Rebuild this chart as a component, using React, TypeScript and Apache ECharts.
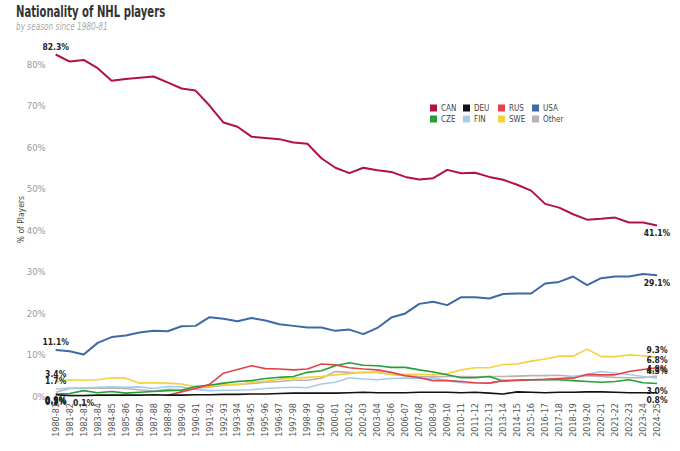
import React, { useEffect, useRef } from 'react';
import * as echarts from 'echarts';

const seasons = [
  '1980-81', '1981-82', '1982-83', '1983-84', '1984-85', '1985-86', '1986-87', '1987-88', '1988-89', '1989-90',
  '1990-91', '1991-92', '1992-93', '1993-94', '1994-95', '1995-96', '1996-97', '1997-98', '1998-99', '1999-00',
  '2000-01', '2001-02', '2002-03', '2003-04', '2005-06', '2006-07', '2007-08', '2008-09', '2009-10', '2010-11',
  '2011-12', '2012-13', '2013-14', '2014-15', '2015-16', '2016-17', '2017-18', '2018-19', '2019-20', '2020-21',
  '2021-22', '2022-23', '2023-24', '2024-25',
];

const yTicks = [0, 10, 20, 30, 40, 50, 60, 70, 80];

const CAN = [82.3, 80.6, 81.0, 79.0, 76.0, 76.4, 76.7, 77.0, 75.6, 74.1, 73.6, 70.0, 65.9, 64.9, 62.5, 62.2, 61.9, 61.1, 60.8, 57.3, 55.0, 53.7, 55.0, 54.4, 54.0, 52.8, 52.2, 52.5, 54.5, 53.7, 53.8, 52.8, 52.1, 50.9, 49.5, 46.3, 45.4, 43.8, 42.5, 42.7, 43.0, 41.8, 41.8, 41.1];
const USA = [11.1, 10.8, 10.0, 12.8, 14.2, 14.6, 15.3, 15.7, 15.6, 16.8, 16.9, 19.0, 18.6, 18.0, 18.8, 18.2, 17.3, 16.9, 16.5, 16.5, 15.7, 16.0, 14.9, 16.4, 18.9, 19.9, 22.2, 22.7, 21.9, 23.8, 23.8, 23.5, 24.6, 24.7, 24.7, 27.1, 27.5, 28.8, 26.7, 28.4, 28.8, 28.8, 29.4, 29.1];
const SWE = [3.4, 3.9, 3.8, 3.9, 4.4, 4.3, 3.1, 3.2, 3.1, 2.9, 2.2, 2.3, 2.8, 2.7, 3.3, 3.6, 4.0, 4.3, 4.5, 4.7, 5.1, 5.4, 5.8, 5.6, 5.2, 5.2, 5.2, 5.1, 5.4, 6.3, 6.8, 6.8, 7.6, 7.7, 8.4, 8.9, 9.6, 9.6, 11.3, 9.5, 9.5, 9.9, 9.7, 9.3];
const CZE = [0.5, 0.6, 1.3, 0.8, 1.1, 0.7, 0.9, 1.1, 1.3, 1.4, 2.3, 2.6, 3.1, 3.5, 3.7, 4.2, 4.5, 4.7, 5.7, 6.1, 7.3, 8.0, 7.4, 7.3, 6.9, 6.9, 6.3, 5.8, 5.1, 4.4, 4.4, 4.7, 3.6, 3.8, 3.9, 3.9, 3.9, 3.7, 3.5, 3.3, 3.5, 3.9, 3.2, 3.0];
const RUS = [null, null, 0.1, null, null, null, null, null, 0.2, 1.0, 1.8, 2.8, 5.5, 6.4, 7.3, 6.6, 6.5, 6.3, 6.5, 7.7, 7.5, 6.8, 6.5, 6.3, 5.7, 4.9, 4.4, 3.7, 3.7, 3.5, 3.2, 3.1, 3.7, 3.8, 3.9, 4.0, 4.2, 4.3, 5.2, 5.1, 5.1, 5.9, 6.4, 6.8];
const FIN = [1.7, 1.9, 2.0, 2.1, 2.2, 2.1, 2.2, 1.8, 2.3, 2.2, 1.6, 1.3, 1.4, 1.4, 1.5, 1.8, 2.0, 2.1, 2.0, 2.9, 3.3, 4.4, 4.1, 3.9, 4.2, 4.3, 4.3, 4.3, 3.7, 3.2, 3.1, 3.1, 3.7, 3.7, 3.8, 4.0, 4.0, 4.7, 5.2, 5.9, 5.5, 5.2, 4.7, 4.3];
const Other = [0.9, 1.8, 1.9, 1.9, 1.9, 1.8, 1.5, 1.2, 1.6, 1.5, 1.9, 2.1, 2.6, 2.8, 3.0, 3.3, 3.5, 3.8, 3.8, 4.3, 5.9, 5.7, 5.6, 5.8, 5.2, 4.9, 4.7, 4.6, 4.7, 4.7, 4.6, 4.7, 4.7, 4.8, 4.9, 4.9, 5.0, 4.7, 4.9, 4.7, 4.5, 4.4, 4.4, 4.8];
const DEU = [0.3, 0.1, 0.1, 0.2, 0.2, 0.2, 0.2, 0.3, 0.2, 0.2, 0.3, 0.3, 0.4, 0.4, 0.5, 0.5, 0.6, 0.7, 0.7, 0.7, 0.7, 0.8, 0.9, 0.8, 0.8, 0.8, 0.9, 0.9, 0.9, 0.8, 0.9, 0.7, 0.5, 1.0, 0.9, 0.8, 0.9, 0.9, 1.0, 1.0, 0.9, 0.8, 0.8, 0.8];

const FONT = "'Liberation Sans Narrow', 'DejaVu Sans Condensed', Roboto, sans-serif";

const seriesDefs = [
  { name: 'Other', values: Other, color: '#bdb2b2', first: 'bottom', last: 'top' },
  { name: 'FIN', values: FIN, color: '#a8cbe9', first: 'top', last: 'top' },
  { name: 'SWE', values: SWE, color: '#f3d23e', first: 'top', last: 'top' },
  { name: 'CZE', values: CZE, color: '#23a038', first: 'bottom', last: 'bottom' },
  { name: 'RUS', values: RUS, color: '#e2434b', first: 'bottom', last: 'top' },
  { name: 'DEU', values: DEU, color: '#111111', first: 'bottom', last: 'bottom' },
  { name: 'USA', values: USA, color: '#3f69a5', first: 'top', last: 'bottom' },
  { name: 'CAN', values: CAN, color: '#b3123f', first: 'top', last: 'bottom' },
];

const legendCols = [['CAN', 'CZE'], ['DEU', 'FIN'], ['RUS', 'SWE'], ['USA', 'Other']];

function buildData(values: (number | null)[], firstPos: string, lastPos: string) {
  const first = values.findIndex((v) => v != null);
  const last = values.length - 1;
  return values.map((v, i) => {
    if (v == null) return '-';
    if (i === first || i === last) {
      return { value: v, label: { show: true, position: i === first ? firstPos : lastPos } };
    }
    return v;
  });
}

export default function App() {
  const ref = useRef<HTMLDivElement>(null);
  useEffect(() => {
    if (!ref.current) return;
    const chart = echarts.init(ref.current, null, { renderer: 'svg' });
    const legendLefts = [425, 458, 493, 527];
    chart.setOption({
      animation: false,
      backgroundColor: '#ffffff',
      textStyle: { fontFamily: FONT },
      graphic: [
        {
          type: 'text',
          x: 16,
          y: 3,
          scaleX: 0.7,
          style: {
            text: 'Nationality of NHL players',
            fontSize: 16,
            fontWeight: 'bold',
            fontFamily: FONT,
            fill: '#333',
            verticalAlign: 'top',
          },
        },
        {
          type: 'text',
          x: 16,
          y: 21,
          scaleX: 0.78,
          style: {
            text: 'by season since 1980-81',
            fontSize: 10.5,
            fontStyle: 'italic',
            fontFamily: FONT,
            fill: '#aaa',
            verticalAlign: 'top',
          },
        },
      ],
      legend: legendCols.map((items, k) => ({
        data: items,
        orient: 'vertical',
        left: legendLefts[k],
        top: 99,
        itemWidth: 7,
        itemHeight: 7,
        itemGap: 3,
        icon: 'rect',
        selectedMode: false,
        textStyle: { fontSize: 8, color: '#444', fontFamily: FONT, padding: [0, 0, 0, -1] },
      })),
      grid: { left: 55.7, right: 23, top: 43.3, bottom: 55, containLabel: false },
      xAxis: {
        type: 'category',
        data: seasons,
        boundaryGap: false,
        axisLine: { show: false },
        axisTick: { show: false },
        axisLabel: { rotate: 90, interval: 0, fontSize: 9, color: '#555', margin: 7, fontFamily: FONT },
        splitLine: { show: false },
      },
      yAxis: {
        type: 'value',
        min: 0,
        max: 85,
        interval: 10,
        name: '% of Players',
        nameLocation: 'middle',
        nameGap: 30,
        nameMoveOverlap: false,
        nameTextStyle: { fontSize: 8.5, color: '#444', fontFamily: FONT },
        axisLine: { show: false },
        axisTick: { show: false },
        splitLine: { show: false },
        axisLabel: {
          fontSize: 9.5,
          color: '#999',
          margin: 10,
          fontFamily: FONT,
          formatter: (v: number) => (yTicks.indexOf(v) >= 0 ? v + '%' : ''),
        },
      },
      series: seriesDefs.map((s) => ({
        name: s.name,
        type: 'line',
        data: buildData(s.values, s.first, s.last),
        color: s.color,
        showSymbol: true,
        showAllSymbol: true,
        symbol: 'circle',
        symbolSize: 0,
        connectNulls: false,
        lineStyle: { width: s.name === 'CAN' || s.name === 'USA' ? 2 : 1.6, color: s.color },
        label: {
          show: false,
          fontSize: 8.5,
          fontWeight: 'bold',
          color: '#222',
          distance: 3,
          fontFamily: FONT,
          formatter: (p: any) => Number(p.value).toFixed(1) + '%',
        },
        labelLayout: { moveOverlap: 'shiftY' },
        emphasis: { disabled: true },
      })),
    });
    return () => chart.dispose();
  }, []);
  return <div ref={ref} style={{ position: 'absolute', left: 0, top: 0, width: 680, height: 451 }} />;
}
